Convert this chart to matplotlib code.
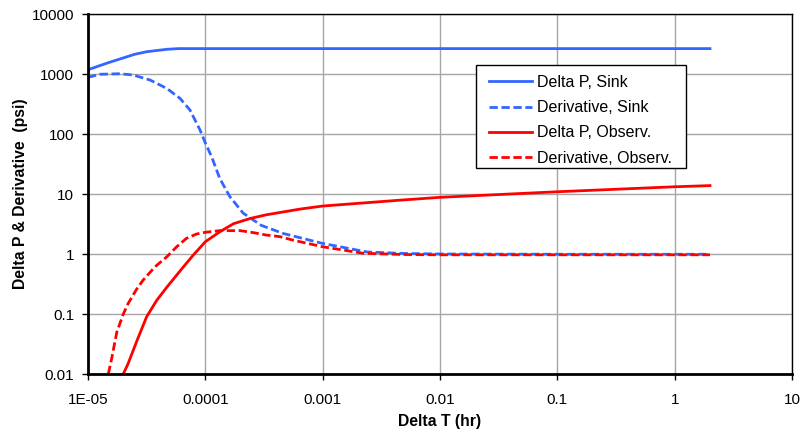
import matplotlib
matplotlib.use('Agg')
import matplotlib.pyplot as plt
from matplotlib.patches import Rectangle
from matplotlib.ticker import FixedLocator, FixedFormatter, NullLocator

plt.rcParams['font.family'] = ['Liberation Sans', 'DejaVu Sans']

# Delta P, Sink
t_sink = [1e-5, 1.5e-5, 2.5e-5, 3.16e-5, 4.7e-5, 5.9e-5, 1e-4, 2.0]
dp_sink = [1180, 1550, 2130, 2350, 2580, 2650, 2650, 2650]

# Derivative, Sink
t_dsink = [1e-5, 1.26e-5, 1.87e-5, 2.42e-5, 3.38e-5, 4.69e-5, 6.08e-5, 7.4e-5,
           9.0e-5, 1e-4, 1.13e-4, 1.33e-4, 1.62e-4, 2.1e-4, 3e-4, 4.6e-4,
           1e-3, 2.4e-3, 5e-3, 1e-2, 0.1, 1, 2]
der_sink = [880, 990, 1010, 962, 794, 575, 393, 251,
            117, 71, 42, 18, 9, 4.8, 3.0, 2.2,
            1.5, 1.08, 1.02, 1.0, 0.99, 0.99, 0.99]

# Delta P, Observ.
t_obs = [2.0e-5, 2.2e-5, 2.6e-5, 3.16e-5, 3.86e-5, 4.7e-5, 6.5e-5, 7.9e-5, 1e-4,
         1.33e-4, 1.74e-4, 2.4e-4, 3.3e-4, 6.4e-4, 1e-3, 4.6e-3, 1e-2, 0.1, 1, 2]
dp_obs = [0.01, 0.015, 0.035, 0.09, 0.17, 0.28, 0.61, 0.96, 1.6,
          2.35, 3.2, 3.9, 4.5, 5.6, 6.3, 7.9, 8.8, 10.9, 13.2, 13.8]

# Derivative, Observ.
t_dobs = [1.49e-5, 1.59e-5, 1.76e-5, 2.0e-5, 2.2e-5, 2.6e-5, 2.96e-5, 3.72e-5,
          4.7e-5, 5.7e-5, 6.9e-5, 8.4e-5, 1e-4, 1.33e-4, 1.98e-4, 2.57e-4,
          3.3e-4, 4.3e-4, 5.6e-4, 1e-3, 2.2e-3, 5e-3, 1e-2, 0.1, 1, 2]
der_obs = [0.01, 0.018, 0.05, 0.1, 0.15, 0.26, 0.37, 0.61,
           0.9, 1.32, 1.82, 2.15, 2.3, 2.45, 2.45, 2.27,
           2.07, 1.95, 1.7, 1.32, 1.03, 0.98, 0.97, 0.97, 0.97, 0.97]

x_ticks = [1e-5, 1e-4, 1e-3, 1e-2, 1e-1, 1, 10]
x_labels = ['1E-05', '0.0001', '0.001', '0.01', '0.1', '1', '10']
y_ticks = [0.01, 0.1, 1, 10, 100, 1000, 10000]
y_labels = ['0.01', '0.1', '1', '10', '100', '1000', '10000']

blue = '#3366ff'
red = '#ff0000'

fig = plt.figure(figsize=(8, 4.41), dpi=100)
ax = fig.add_axes([88 / 800, 1 - 374 / 441, (792 - 88) / 800, (374 - 14) / 441])

ax.plot(t_sink, dp_sink, color=blue, lw=2, label='Delta P, Sink')
ax.plot(t_dsink, der_sink, color=blue, lw=2, dashes=(3, 1.3), label='Derivative, Sink')
ax.plot(t_obs, dp_obs, color=red, lw=2, label='Delta P, Observ.')
ax.plot(t_dobs, der_obs, color=red, lw=2, dashes=(3, 1.3), label='Derivative, Observ.')

ax.set_xscale('log')
ax.set_yscale('log')
ax.set_xlim(1e-5, 10)
ax.set_ylim(0.01, 10000)
ax.xaxis.set_major_locator(FixedLocator(x_ticks))
ax.xaxis.set_major_formatter(FixedFormatter(x_labels))
ax.yaxis.set_major_locator(FixedLocator(y_ticks))
ax.yaxis.set_major_formatter(FixedFormatter(y_labels))
ax.xaxis.set_minor_locator(NullLocator())
ax.yaxis.set_minor_locator(NullLocator())

ax.grid(True, color='#a6a6a6', lw=1)
ax.set_axisbelow(True)
for s in ['left', 'bottom']:
    ax.spines[s].set_linewidth(2)
    ax.spines[s].set_color('black')
for s in ['top', 'right']:
    ax.spines[s].set_linewidth(1)
    ax.spines[s].set_color('black')
ax.tick_params(axis='both', direction='out', length=4.5, width=1, labelsize=11,
               top=False, right=False)
ax.tick_params(axis='x', pad=9)
ax.tick_params(axis='y', pad=5.5)

ax.set_xlabel('Delta T (hr)', fontsize=11.3, fontweight='bold', labelpad=5)
ax.set_ylabel('Delta P & Derivative  (psi)', fontsize=11.3, fontweight='bold', labelpad=2.5)

# legend box drawn separately (Excel-style padding)
box = Rectangle((476 / 800, 1 - 168 / 441), 210 / 800, 103 / 441,
                transform=fig.transFigure, facecolor='white', edgecolor='black',
                lw=1, zorder=4, clip_on=False)
ax.add_patch(box)
leg = ax.legend(loc='upper left', bbox_to_anchor=(489 / 800, 1 - 75 / 441),
                bbox_transform=fig.transFigure, fontsize=11.5, frameon=False,
                handlelength=2.7, handletextpad=0.3, labelspacing=0.64,
                borderpad=0, borderaxespad=0)
leg.set_zorder(5)

fig.savefig('out.png', dpi=100)
